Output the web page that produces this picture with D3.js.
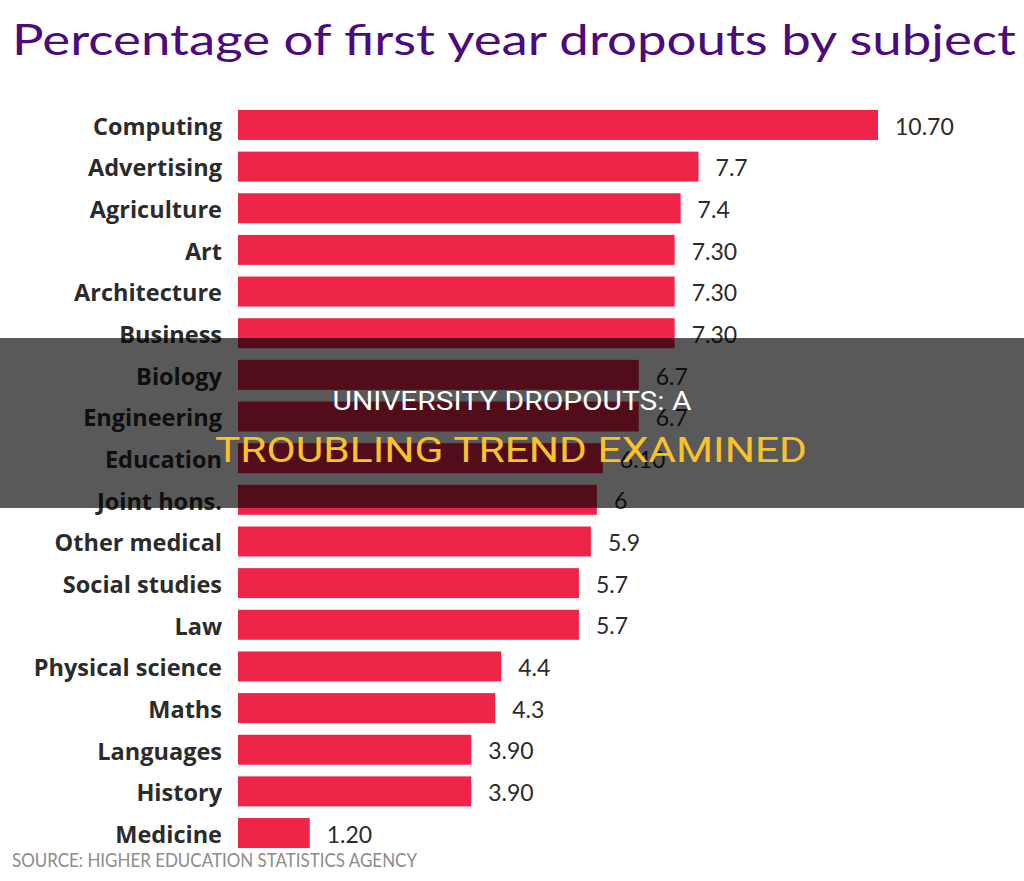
<!DOCTYPE html>
<html>
<head>
<meta charset="utf-8">
<script src="https://cdn.jsdelivr.net/npm/d3@7"></script>
<style>
  html, body { margin: 0; padding: 0; background: #ffffff; }
  svg { display: block; }
</style>
</head>
<body>
<svg id="chart" width="1024" height="881"></svg>
<script>
const categories = ["Computing","Advertising","Agriculture","Art","Architecture","Business","Biology","Engineering","Education","Joint hons.","Other medical","Social studies","Law","Physical science","Maths","Languages","History","Medicine"];
const values = [10.7,7.7,7.4,7.3,7.3,7.3,6.7,6.7,6.1,6.0,5.9,5.7,5.7,4.4,4.3,3.9,3.9,1.2];
const valueLabels = ["10.70","7.7","7.4","7.30","7.30","7.30","6.7","6.7","6.10","6","5.9","5.7","5.7","4.4","4.3","3.90","3.90","1.20"];
const titleText = "Percentage of first year dropouts by subject";
const sourceText = "SOURCE: HIGHER EDUCATION STATISTICS AGENCY";
const overlayLine1 = "UNIVERSITY DROPOUTS: A";
const overlayLine2 = "TROUBLING TREND EXAMINED";

const data = categories.map((c, i) => ({ cat: c, value: values[i], label: valueLabels[i] }));

const svg = d3.select("#chart");
const W = 1024, H = 881;

const x = d3.scaleLinear().domain([0, 10.7]).range([238, 878]);
const y = d3.scaleBand().domain(categories).range([98.3, 859.7]).paddingInner(0.28).paddingOuter(0.28);

// Title
svg.append("text")
  .attr("x", 12).attr("y", 55)
  .attr("font-family", "Lato, 'Noto Sans', sans-serif")
  .attr("font-size", 42)
  .attr("fill", "#4b0b7d")
  .attr("textLength", 1004)
  .attr("lengthAdjust", "spacingAndGlyphs")
  .text(titleText);

// Bars
svg.append("g").selectAll("rect").data(data).join("rect")
  .attr("x", x(0))
  .attr("y", d => y(d.cat))
  .attr("width", d => x(d.value) - x(0))
  .attr("height", y.bandwidth())
  .attr("fill", "#ee2449");

// Category labels
svg.append("g").selectAll("text").data(data).join("text")
  .attr("x", 222)
  .attr("y", d => y(d.cat) + y.bandwidth() / 2)
  .attr("dy", "0.42em")
  .attr("text-anchor", "end")
  .attr("font-family", "'Open Sans', Lato, sans-serif")
  .attr("font-weight", "bold")
  .attr("font-size", 23.5)
  .attr("fill", "#2b2b2b")
  .text(d => d.cat);

// Value labels
svg.append("g").selectAll("text").data(data).join("text")
  .attr("x", d => x(d.value) + 17)
  .attr("y", d => y(d.cat) + y.bandwidth() / 2)
  .attr("dy", "0.42em")
  .attr("font-family", "Lato, 'Noto Sans', sans-serif")
  .attr("font-size", 23)
  .attr("fill", "#2b2b2b")
  .text(d => d.label);

// Source
svg.append("text")
  .attr("x", 12).attr("y", 867)
  .attr("font-family", "Lato, 'Noto Sans', sans-serif")
  .attr("font-size", 19.5)
  .attr("fill", "#8c8c8c")
  .attr("textLength", 405)
  .attr("lengthAdjust", "spacingAndGlyphs")
  .text(sourceText);

// Overlay band
svg.append("rect")
  .attr("x", 0).attr("y", 338)
  .attr("width", W).attr("height", 170)
  .attr("fill", "#000000")
  .attr("fill-opacity", 0.65);

svg.append("text")
  .attr("x", 512).attr("y", 410)
  .attr("text-anchor", "middle")
  .attr("font-family", "'Liberation Sans Narrow', Roboto, sans-serif")
  .attr("font-size", 25)
  .attr("fill", "#ffffff")
  .attr("textLength", 359)
  .attr("lengthAdjust", "spacingAndGlyphs")
  .text(overlayLine1);

svg.append("text")
  .attr("x", 511).attr("y", 462)
  .attr("text-anchor", "middle")
  .attr("font-family", "'Liberation Sans Narrow', Roboto, sans-serif")
  .attr("font-size", 35)
  .attr("fill", "#f7c22a")
  .attr("textLength", 592)
  .attr("lengthAdjust", "spacingAndGlyphs")
  .text(overlayLine2);
</script>
</body>
</html>
